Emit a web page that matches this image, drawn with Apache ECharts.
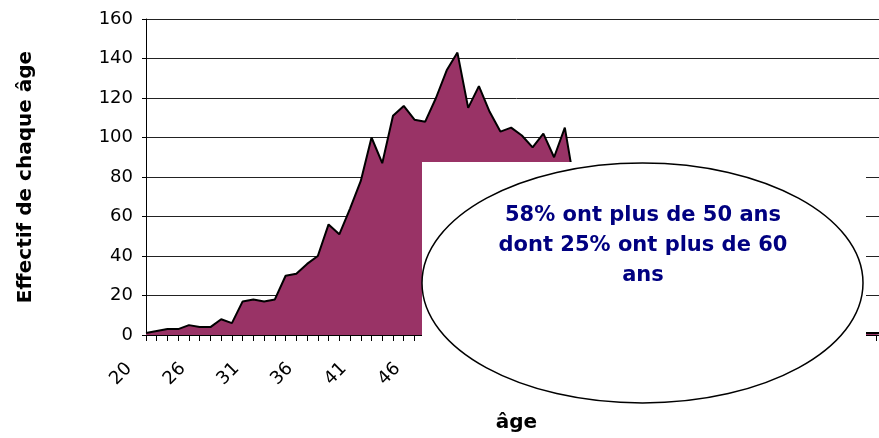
<!DOCTYPE html>
<html>
<head>
<meta charset="utf-8">
<script src="https://cdn.jsdelivr.net/npm/echarts@6/dist/echarts.min.js"></script>
<style>
  html, body { margin: 0; padding: 0; background: #fff; overflow: hidden; }
</style>
</head>
<body>
<!-- a bit wider than the window: the plot runs past the right edge, as in the original -->
<div id="ageChart" style="width:887px;height:438px"></div>
<script>
// ages on the category axis (21 is absent in the source table)
const ages = [20].concat(Array.from({length: 69}, (_, i) => 22 + i));

// head count for each age (the part under the bubble is estimated)
const effectifs = [
  1, 2, 3, 3, 5, 4, 4, 8, 6, 17,
  18, 17, 18, 30, 31, 36, 40, 56, 51, 64,
  78, 100, 87, 111, 116, 109, 108, 120, 134, 143,
  115, 126, 113, 103, 105, 101, 95, 102, 90, 105,
  73, 70, 66, 60, 55, 50, 45, 40, 35, 30,
  26, 22, 18, 15, 12, 10, 8, 6, 5, 4,
  3, 3, 2, 2, 2, 1, 1, 1, 1, 1
];

const yTicks = {min: 0, max: 160, step: 20};

const bubbleLines = ['58% ont plus de 50 ans', 'dont 25% ont plus de 60', 'ans'];

const myChart = echarts.init(document.getElementById('ageChart'));

let option = {
  animation: false,
  textStyle: {fontFamily: 'DejaVu Sans'},
  grid: {
    left: 146,
    top: 19,
    right: 0,
    bottom: 100
  },
  xAxis: {
    type: 'category',
    data: ages,
    boundaryGap: false,
    name: 'âge',
    nameLocation: 'middle',
    nameGap: 78,
    nameTextStyle: {fontSize: 20, fontWeight: 'bold', color: '#000', fontFamily: 'DejaVu Sans'},
    axisLine: {lineStyle: {color: '#000', width: 1}},
    axisTick: {show: true, interval: 0, length: 6, lineStyle: {color: '#000'}},
    axisLabel: {
      interval: 4,
      rotate: 45,
      margin: 14,
      padding: [0, 24, 0, 0],
      fontSize: 18,
      color: '#000',
      fontFamily: 'DejaVu Sans'
    },
    splitLine: {show: false}
  },
  yAxis: {
    type: 'value',
    min: yTicks.min,
    max: yTicks.max,
    interval: yTicks.step,
    name: 'Effectif de chaque âge',
    nameLocation: 'middle',
    nameRotate: 90,
    nameGap: 110,
    nameTextStyle: {fontSize: 20, fontWeight: 'bold', color: '#000', fontFamily: 'DejaVu Sans'},
    axisLine: {show: true, lineStyle: {color: '#000', width: 1}},
    axisTick: {show: true, length: 4, lineStyle: {color: '#000'}},
    axisLabel: {margin: 13, fontSize: 18, color: '#000', fontFamily: 'DejaVu Sans'},
    splitLine: {lineStyle: {color: '#222', width: 1}}
  },
  series: [{
    name: 'Effectif',
    type: 'line',
    data: effectifs,
    symbol: 'none',
    lineStyle: {color: '#000', width: 2},
    areaStyle: {color: '#993366', opacity: 1}
  }],
  // white box with the comment bubble, drawn over the plot like in the original
  graphic: [
    {
      type: 'rect',
      z: 100,
      shape: {x: 422, y: 162, width: 444, height: 246},
      style: {fill: '#fff'}
    },
    {
      type: 'ellipse',
      z: 101,
      shape: {cx: 642.5, cy: 283, rx: 220.5, ry: 120},
      style: {fill: '#fff', stroke: '#000', lineWidth: 1.5}
    },
    {
      type: 'text',
      z: 102,
      x: 643,
      y: 246,
      style: {
        text: bubbleLines.join('\n'),
        fill: '#000080',
        font: 'bold 21px "DejaVu Sans"',
        lineHeight: 30,
        align: 'center',
        verticalAlign: 'middle'
      }
    }
  ]
};

myChart.setOption(option);
</script>
</body>
</html>
